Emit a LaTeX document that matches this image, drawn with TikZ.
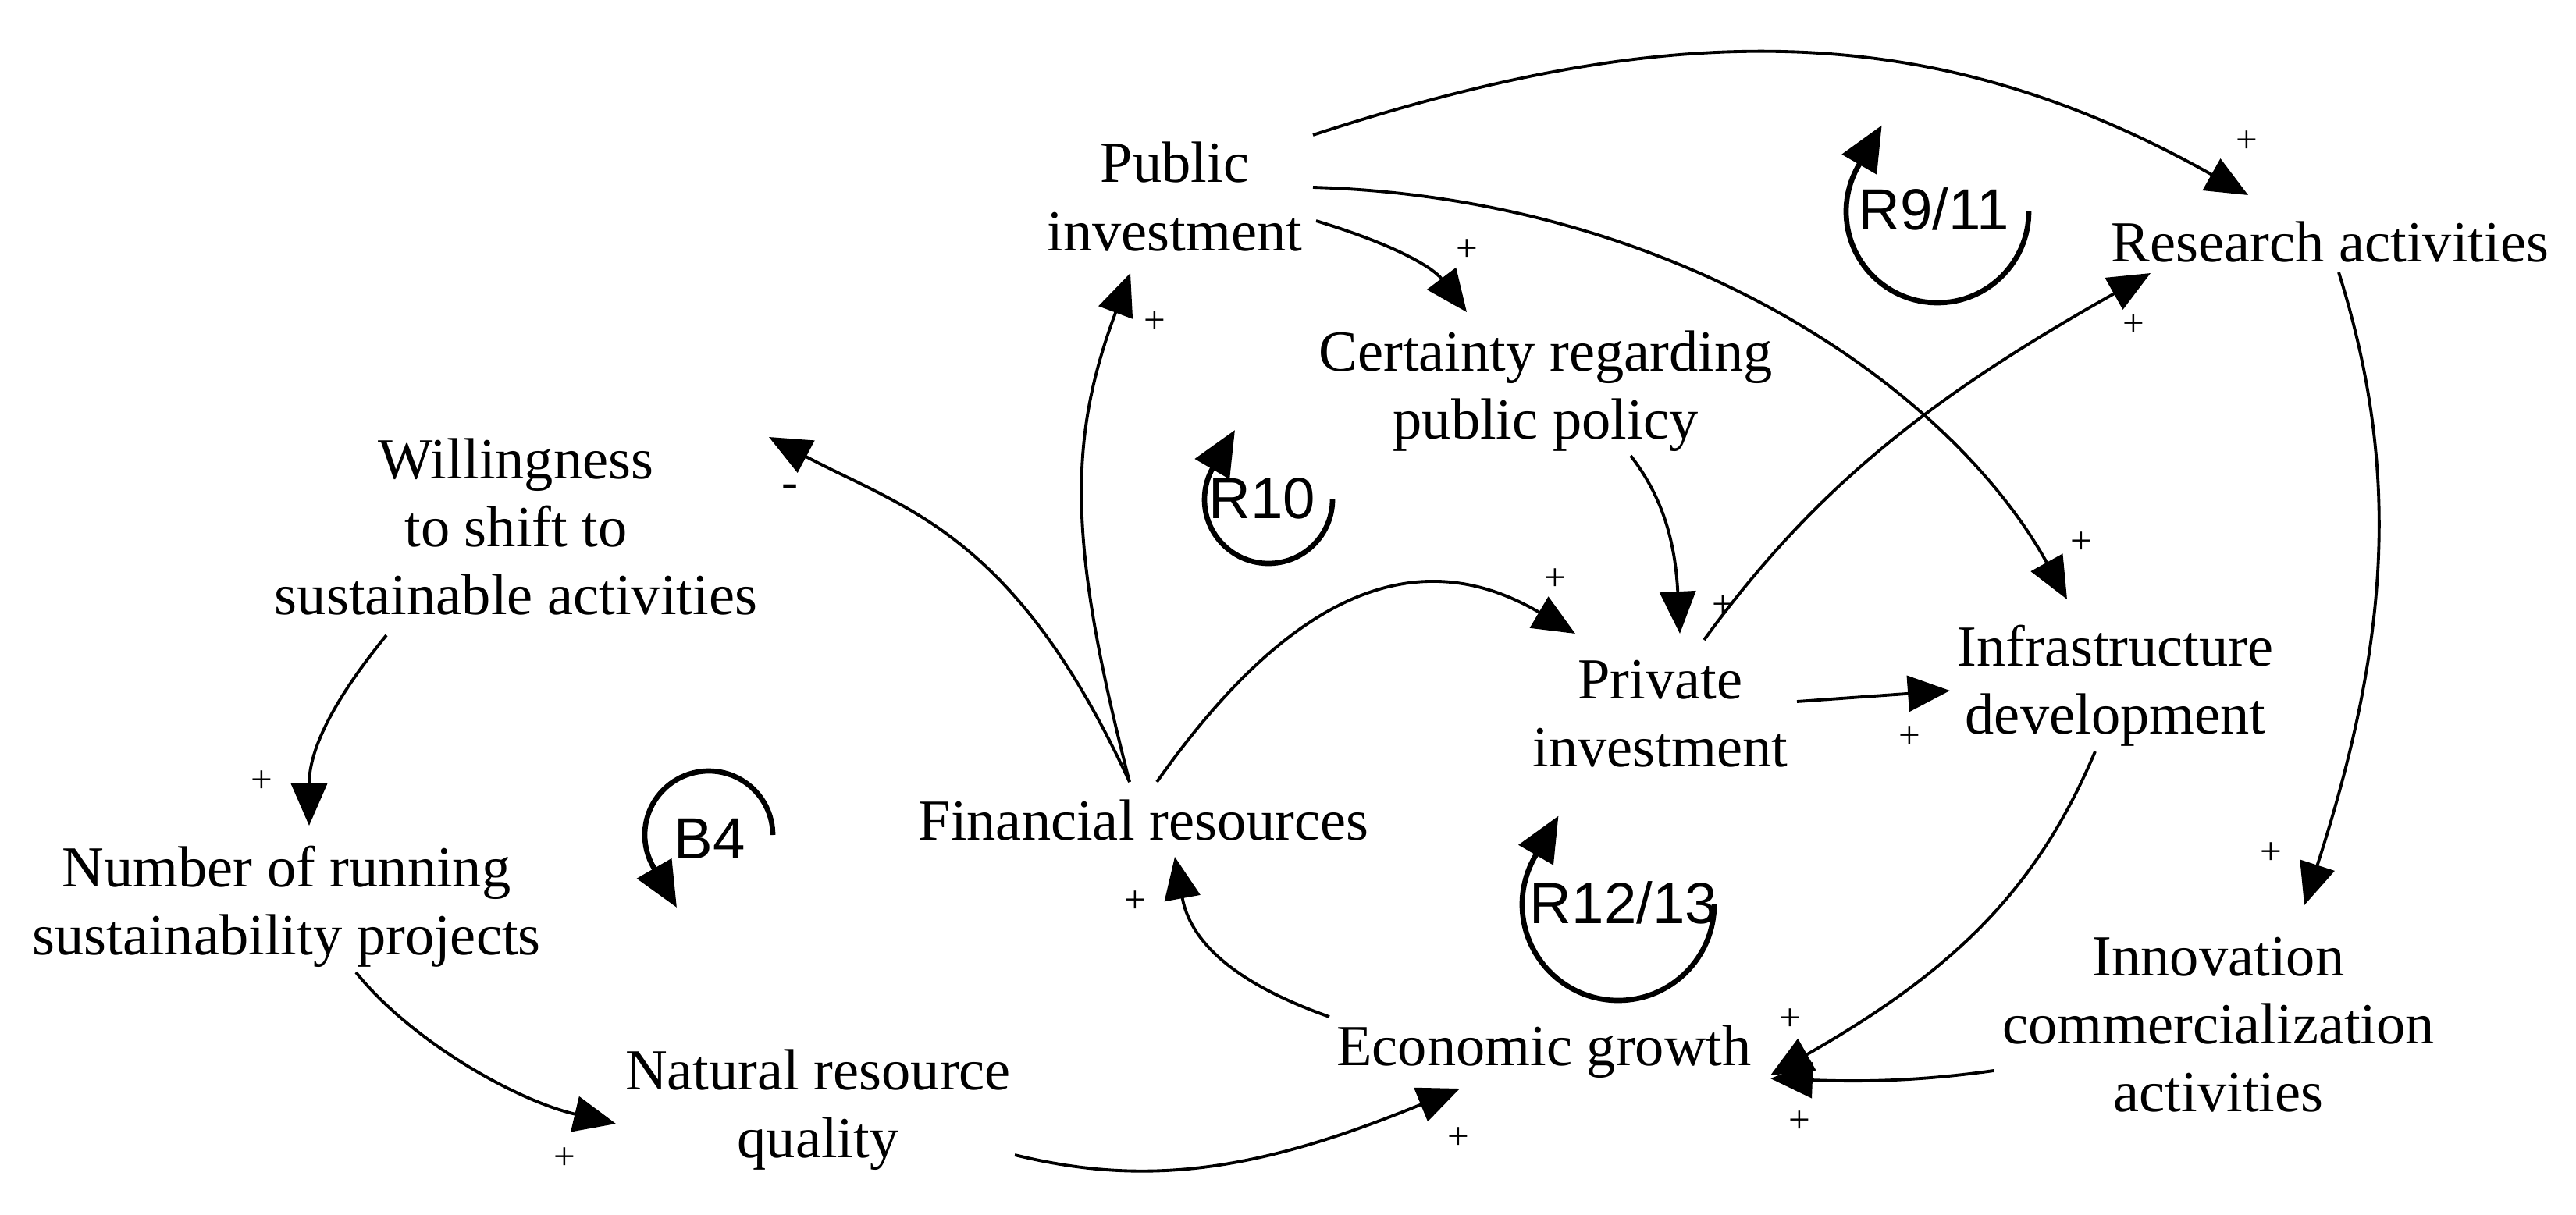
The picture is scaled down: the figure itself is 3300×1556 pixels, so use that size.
\documentclass[tikz,border=0pt]{standalone}
\usepackage{fontspec}
\setmainfont{Liberation Serif}
\setsansfont{Liberation Sans}
\usetikzlibrary{arrows.meta}
\begin{document}
\begin{tikzpicture}[x=0.005cm, y=-0.005cm,
  var/.style={align=center, inner sep=0pt, font=\fontsize{10.6}{12.4}\selectfont},
  lbl/.style={inner sep=0pt, font=\sffamily\fontsize{10.6}{12}\selectfont},
  sgn/.style={inner sep=0pt, font=\fontsize{7}{8}\selectfont},
  lnk/.style={line width=0.55pt, -{Triangle[length=2.7mm,width=2.3mm]}},
  cycarrow/.style={line width=0.95pt, -{Triangle[length=2.9mm,width=2.5mm]}}]
\useasboundingbox (0,0) rectangle (3300,1556);

% variables
\node[var] (pub) at (1505,252) {Public\\investment};
\node[var] (cert) at (1980,501) {Certainty regarding\\public policy};
\node[var] (res) at (2985,310) {Research activities};
\node[var] (will) at (661,675) {Willingness\\to shift to\\sustainable activities};
\node[var] (num) at (367,1162) {Number of running\\sustainability projects};
\node[var] (nat) at (1048,1422) {Natural resource\\quality};
\node[var] (fin) at (1465,1051) {Financial resources};
\node[var] (eco) at (1978,1348) {Economic growth};
\node[var] (priv) at (2127,915) {Private\\investment};
\node[var] (infra) at (2710,879) {Infrastructure\\development};
\node[var] (innov) at (2842,1313) {Innovation\\commercialization\\activities};

% loop labels
\node[lbl] (l911) at (2477,268) {R9/11};
\node[lbl] (l10) at (1617,639) {R10};
\node[lbl] (l1213) at (2080,1157) {R12/13};
\node[lbl] (lb4) at (909,1075) {B4};

% loop arrows
\draw[cycarrow] (2599,271) arc[start angle=0,end angle=210,radius=117] -- ++(30,-52);
\draw[cycarrow] (1707,640) arc[start angle=0,end angle=210,radius=82] -- ++(28,-48);
\draw[cycarrow] (2196,1159) arc[start angle=0,end angle=210,radius=123] -- ++(30,-52);
\draw[cycarrow] (990,1070) arc[start angle=0,end angle=-210,radius=82] -- ++(30,52);

% connectors
\draw[lnk] ([shift={(177,-79)}]pub.center) .. controls (2150,20) and (2480,25) .. ([shift={(-105,-60)}]res.center);
\draw[lnk] ([shift={(181,31)}]pub.center) .. controls (1788,314) and (1836,343) .. ([shift={(-101,-101)}]cert.center);
\draw[lnk] ([shift={(177,-12)}]pub.center) .. controls (2153,254) and (2500,500) .. ([shift={(-62,-111)}]infra.center);
\draw[lnk] ([shift={(11,39)}]res.center) .. controls (3075,600) and (3062,820) .. ([shift={(110,-153)}]innov.center);
\draw[lnk] ([shift={(56,-95)}]priv.center) .. controls (2320,632) and (2463,514) .. ([shift={(-230,40)}]res.center);
\draw[lnk] ([shift={(17,-49)}]fin.center) .. controls (1658,752) and (1820,695) .. ([shift={(-109,-103)}]priv.center);
\draw[lnk] ([shift={(109,83)}]cert.center) .. controls (2130,637) and (2146,694) .. ([shift={(25,-103)}]priv.center);
\draw[lnk] ([shift={(175,-16)}]priv.center) -- ([shift={(-212,6)}]infra.center);
\draw[lnk] ([shift={(-26,84)}]infra.center) .. controls (2610,1138) and (2506,1242) .. ([shift={(290,30)}]eco.center);
\draw[lnk] ([shift={(-288,59)}]innov.center) .. controls (2468,1384) and (2397,1387) .. ([shift={(290,34)}]eco.center);
\draw[lnk] ([shift={(-18,-49)}]fin.center) .. controls (1368,696) and (1368,564) .. ([shift={(-57,98)}]pub.center);
\draw[lnk] ([shift={(-18,-49)}]fin.center) .. controls (1300,684) and (1163,654) .. ([shift={(324,-115)}]will.center);
\draw[lnk] ([shift={(-166,139)}]will.center) .. controls (421,905) and (396,965) .. ([shift={(29,-104)}]num.center);
\draw[lnk] ([shift={(89,84)}]num.center) .. controls (524,1331) and (657,1409) .. ([shift={(-259,18)}]nat.center);
\draw[lnk] ([shift={(252,58)}]nat.center) .. controls (1471,1522) and (1614,1500) .. ([shift={(-108,47)}]eco.center);
\draw[lnk] ([shift={(-275,-45)}]eco.center) .. controls (1573,1257) and (1524,1202) .. ([shift={(40,47)}]fin.center);

% polarities
\node[sgn] (s1) at (2878,182) {+};
\node[sgn] (s2) at (1879,321) {+};
\node[sgn] (s3) at (2666,696) {+};
\node[sgn] (s4) at (2909,1094) {+};
\node[sgn] (s5) at (2733,417) {+};
\node[sgn] (s6) at (1992,743) {+};
\node[sgn] (s7) at (2207,777) {+};
\node[sgn] (s8) at (2446,945) {+};
\node[sgn] (s9) at (2293,1307) {+};
\node[sgn] (s10) at (2305,1438) {+};
\node[sgn] (s11) at (1479,413) {+};
\node[sgn, font=\fontsize{9}{10}\selectfont] (s12) at (1012,630) {-};
\node[sgn] (s13) at (335,1002) {+};
\node[sgn] (s14) at (723,1485) {+};
\node[sgn] (s15) at (1868,1459) {+};
\node[sgn] (s16) at (1454,1156) {+};
\end{tikzpicture}
\end{document}
